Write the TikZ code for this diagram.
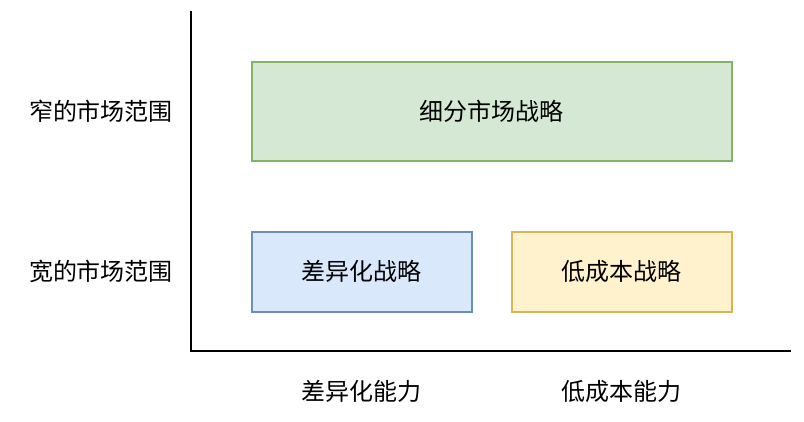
\documentclass[tikz,border=0pt]{standalone}
\usepackage{fontspec}
\newfontfamily\cjk{Noto Sans CJK SC}
\definecolor{gfill}{HTML}{D5E8D4}\definecolor{gline}{HTML}{82B366}
\definecolor{bfill}{HTML}{DAE8FC}\definecolor{bline}{HTML}{6C8EBF}
\definecolor{yfill}{HTML}{FFF2CC}\definecolor{yline}{HTML}{D6B656}
\begin{document}
\begin{tikzpicture}[x=1pt,y=-1pt,
  txt/.style={font=\cjk\fontsize{24}{28}\selectfont, inner sep=0pt, text=black},
  boxs/.style={draw, line width=1.6pt, inner sep=0pt, anchor=north west},
  axis/.style={line width=2pt}]
\useasboundingbox (0,0) rectangle (804,422);
\node[boxs, draw=gline, fill=gfill, minimum width=480, minimum height=99] (seg) at (251,61) {};
\node[txt] at (seg.center) {细分市场战略};
\node[boxs, draw=bline, fill=bfill, minimum width=220, minimum height=80] (diff) at (251,231) {};
\node[txt] at (diff.center) {差异化战略};
\node[boxs, draw=yline, fill=yfill, minimum width=220, minimum height=80] (cost) at (511,231) {};
\node[txt] at (cost.center) {低成本战略};
\coordinate (top) at (191,11);
\coordinate (orig) at (191,351);
\coordinate (right) at (791,351);
\draw[axis] (top) -- (orig) -- (right);
\node[txt] (narrow) at (101,111) {窄的市场范围};
\node[txt] (wide) at (101,271) {宽的市场范围};
\node[txt] (dcap) at (361,391) {差异化能力};
\node[txt] (ccap) at (621,391) {低成本能力};
\end{tikzpicture}
\end{document}
